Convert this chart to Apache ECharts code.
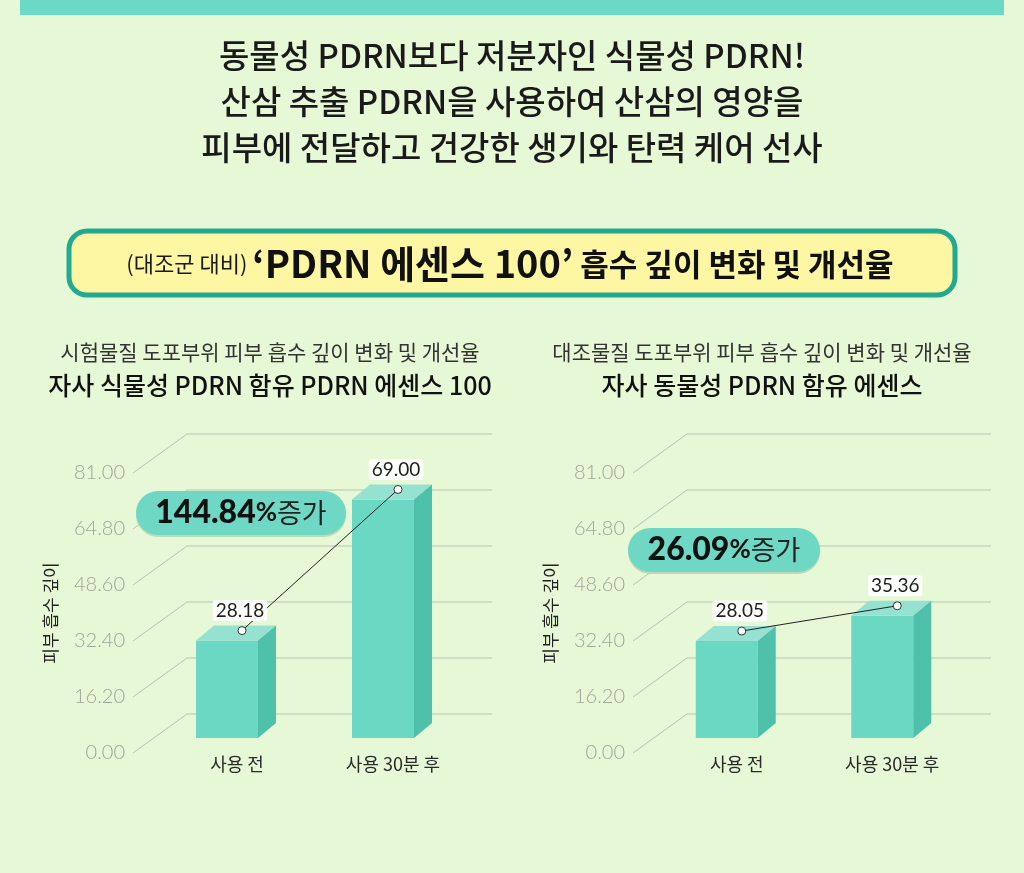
<!DOCTYPE html>
<html>
<head>
<meta charset="utf-8">
<script src="https://cdn.jsdelivr.net/npm/echarts@6/dist/echarts.min.js"></script>
<style>
html,body{margin:0;padding:0;background:#e6f8d6;}
#main{width:1024px;height:873px;}
</style>
</head>
<body>
<div id="main"></div>
<script>
// ---- data ----
const categories = ['사용 전', '사용 30분 후'];
const leftValues = [28.18, 69.00];
const rightValues = [28.05, 35.36];
const yTicks = [0, 16.2, 32.4, 48.6, 64.8, 81];
const leftIncrease = '144.84';
const rightIncrease = '26.09';
const headerLines = ['동물성 PDRN보다 저분자인 식물성 PDRN!', '산삼 추출 PDRN을 사용하여 산삼의 영양을', '피부에 전달하고 건강한 생기와 탄력 케어 선사'];
const leftSub = ['시험물질 도포부위 피부 흡수 깊이 변화 및 개선율', '자사 식물성 PDRN 함유 PDRN 에센스 100'];
const rightSub = ['대조물질 도포부위 피부 흡수 깊이 변화 및 개선율', '자사 동물성 PDRN 함유 에센스'];
const yName = '피부 흡수 깊이';

const KR = '"Noto Sans CJK KR", "Noto Sans", sans-serif';
const NUM = 'Lato, "Noto Sans", sans-serif';

const chart = echarts.init(document.getElementById('main'));

function gridRender(params, api) {
  const cs = params.coordSys;
  const y = api.coord([0, api.value(1)])[1];
  return {
    type: 'polyline',
    shape: { points: [[cs.x - 26, y], [cs.x + 28, y - 39], [cs.x + cs.width + 21, y - 39]] },
    style: { stroke: '#b9c3b0', lineWidth: 1, fill: null }
  };
}

function barRender(params, api) {
  const i = api.value(0), v = api.value(1);
  const c = api.coord([i, v]), z = api.coord([i, 0]);
  const L = c[0] - 41, R = c[0] + 21, T = c[1] - 15, B = z[1] - 15, dx = 18, dy = -15;
  return {
    type: 'group', children: [
      { type: 'polygon', shape: { points: [[L, T], [R, T], [R, B], [L, B]] }, style: { fill: '#6bd8c3' } },
      { type: 'polygon', shape: { points: [[L, T], [R, T], [R + dx, T + dy], [L + dx, T + dy]] }, style: { fill: '#95e2d2' } },
      { type: 'polygon', shape: { points: [[R, T], [R + dx, T + dy], [R + dx, B + dy], [R, B]] }, style: { fill: '#4fc0a9' } }
    ]
  };
}

function makeOverlay(vals) {
  return function (params, api) {
    const i = api.value(0);
    const pt = (j) => { const c = api.coord([j, vals[j]]); return [c[0] + 5, c[1] - 25]; };
    const p = pt(i);
    const children = [];
    if (i === 0) {
      const q = pt(1);
      children.push({ type: 'line', shape: { x1: p[0], y1: p[1], x2: q[0], y2: q[1] }, style: { stroke: '#222', lineWidth: 1 } });
    }
    children.push({ type: 'circle', shape: { cx: p[0], cy: p[1], r: 4 }, style: { fill: '#fff', stroke: '#333', lineWidth: 1 } });
    children.push({ type: 'text', x: p[0] - 2, y: p[1] - 20, style: {
      text: vals[i].toFixed(2), fill: '#1e1e1e', font: '19px ' + NUM, align: 'center', verticalAlign: 'middle',
      backgroundColor: 'rgba(255,255,255,0.9)', padding: [1, 3], borderRadius: 3 } });
    return { type: 'group', children };
  };
}

function axisPair(idx) {
  return {
    x: { type: 'category', gridIndex: idx, data: categories, boundaryGap: true,
      axisLine: { show: false }, axisTick: { show: false }, splitLine: { show: false },
      axisLabel: { color: '#2a2a2a', fontSize: 18, fontFamily: KR, margin: 2 } },
    y: { type: 'value', gridIndex: idx, min: 0, max: 81, interval: 16.2,
      axisLine: { show: false }, axisTick: { show: false }, splitLine: { show: false },
      name: yName, nameLocation: 'middle', nameRotate: 90, nameGap: 100,
      nameTextStyle: { color: '#222', fontSize: 17, fontFamily: KR },
      axisLabel: { color: '#9ea698', fontSize: 20, fontFamily: NUM, fontWeight: 300, margin: 34,
        formatter: v => v.toFixed(2) } }
  };
}
const a0 = axisPair(0), a1 = axisPair(1);

function pill(cx, cy, w, num) {
  return [
    { type: 'rect', shape: { x: cx - w / 2, y: cy - 20, width: w, height: 44, r: 22 }, style: { fill: '#bfd9b8' }, z: 10 },
    { type: 'rect', shape: { x: cx - w / 2, y: cy - 22, width: w, height: 44, r: 22 }, style: { fill: '#6fd8c4' }, z: 11 },
    { type: 'text', x: cx, y: cy, z: 12, style: {
      text: '{a|' + num + '}{b|%}{c|증가}', align: 'center', verticalAlign: 'middle',
      rich: {
        a: { font: '900 32px ' + NUM, fill: '#111' },
        b: { font: '700 26px ' + NUM, fill: '#111' },
        c: { font: '400 27px ' + KR, fill: '#222' }
      } } }
  ];
}

const graphics = [
  { type: 'rect', shape: { x: 20, y: -10, width: 984, height: 25 }, style: { fill: '#6cd9c6' } },
  { type: 'text', x: 512, y: 55, style: { text: headerLines[0], font: '500 33px ' + KR, fill: '#1a1a1a', align: 'center', verticalAlign: 'middle' } },
  { type: 'text', x: 512, y: 101, style: { text: headerLines[1], font: '500 33px ' + KR, fill: '#1a1a1a', align: 'center', verticalAlign: 'middle' } },
  { type: 'text', x: 512, y: 147, style: { text: headerLines[2], font: '500 33px ' + KR, fill: '#1a1a1a', align: 'center', verticalAlign: 'middle' } },
  { type: 'rect', shape: { x: 69, y: 231, width: 886, height: 64, r: 18 }, style: { fill: '#fdf6a3', stroke: '#22aa90', lineWidth: 5 } },
  { type: 'text', x: 510, y: 264, style: {
    text: '{a|(대조군 대비) }{b|‘PDRN 에센스 100’}{c| 흡수 깊이 변화 및 개선율}', align: 'center', verticalAlign: 'middle',
    rich: {
      a: { font: '400 22px ' + KR, fill: '#1a1a1a' },
      b: { font: '700 38px ' + KR, fill: '#111' },
      c: { font: '700 31px ' + KR, fill: '#111' }
    } } },
  { type: 'text', x: 270, y: 352, style: { text: leftSub[0], font: '400 21px ' + KR, fill: '#333', align: 'center', verticalAlign: 'middle' } },
  { type: 'text', x: 270, y: 385, style: { text: leftSub[1], font: '500 25px ' + KR, fill: '#111', align: 'center', verticalAlign: 'middle' } },
  { type: 'text', x: 762, y: 352, style: { text: rightSub[0], font: '400 21px ' + KR, fill: '#333', align: 'center', verticalAlign: 'middle' } },
  { type: 'text', x: 762, y: 385, style: { text: rightSub[1], font: '500 25px ' + KR, fill: '#111', align: 'center', verticalAlign: 'middle' } }
].concat(pill(241, 513, 210, leftIncrease), pill(724, 550, 192, rightIncrease));

chart.setOption({
  backgroundColor: '#e6f8d6',
  animation: false,
  grid: [
    { left: 159, width: 312, top: 473, bottom: 120 },
    { left: 659, width: 311, top: 473, bottom: 120 }
  ],
  xAxis: [a0.x, a1.x],
  yAxis: [a0.y, a1.y],
  graphic: graphics,
  series: [
    { type: 'custom', xAxisIndex: 0, yAxisIndex: 0, z: 1, renderItem: gridRender, data: yTicks.map(v => [0, v]), silent: true },
    { type: 'custom', xAxisIndex: 1, yAxisIndex: 1, z: 1, renderItem: gridRender, data: yTicks.map(v => [0, v]), silent: true },
    { type: 'custom', xAxisIndex: 0, yAxisIndex: 0, z: 2, renderItem: barRender, data: leftValues.map((v, i) => [i, v]) },
    { type: 'custom', xAxisIndex: 1, yAxisIndex: 1, z: 2, renderItem: barRender, data: rightValues.map((v, i) => [i, v]) },
    { type: 'custom', xAxisIndex: 0, yAxisIndex: 0, z: 3, renderItem: makeOverlay(leftValues), data: leftValues.map((v, i) => [i, v]) },
    { type: 'custom', xAxisIndex: 1, yAxisIndex: 1, z: 3, renderItem: makeOverlay(rightValues), data: rightValues.map((v, i) => [i, v]) }
  ]
});
</script>
</body>
</html>
